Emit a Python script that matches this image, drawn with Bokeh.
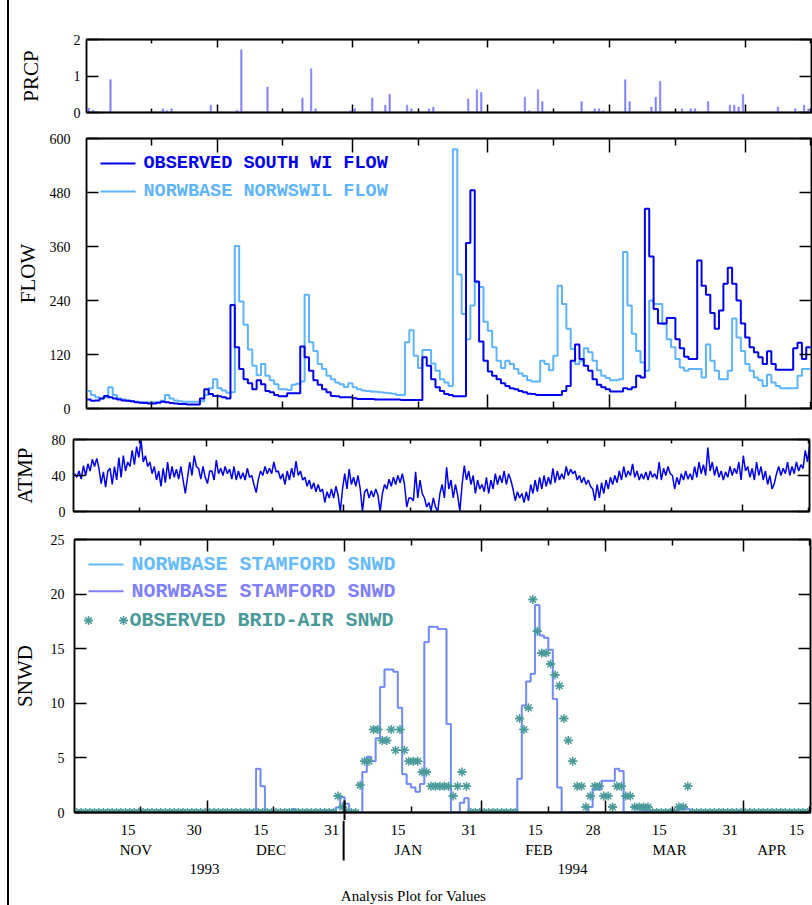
from datetime import date, timedelta
from bokeh.plotting import figure
from bokeh.models import Range1d, LinearAxis, FixedTicker, Div, Spacer
from bokeh.layouts import column, row
from bokeh.embed import file_html
from bokeh.resources import INLINE
from bokeh.core.properties import value

# ---------------- data (day index 0 = 1993-11-01) ----------------
START = date(1993, 11, 1)
X_END = 166.2

prcp_days = [0, 1, 5, 17, 18, 19, 28, 34, 35, 41,
             49, 51, 52, 60, 61, 65, 68, 69, 73, 74,
             78, 79, 87, 89, 90, 100, 101, 103, 104, 113,
             116, 117, 118, 123, 124, 129, 130, 131, 136, 138,
             139, 142, 147, 148, 149, 150, 158, 162, 164, 165]
prcp_vals = [0.12, 0.06, 0.9, 0.1, 0.05, 0.1, 0.2, 0.06, 1.72, 0.7,
             0.4, 1.2, 0.1, 0.05, 0.1, 0.4, 0.2, 0.5, 0.2, 0.1,
             0.1, 0.15, 0.37, 0.62, 0.55, 0.42, 0.05, 0.62, 0.3, 0.3,
             0.1, 0.1, 0.05, 0.9, 0.3, 0.15, 0.42, 0.85, 0.1, 0.1,
             0.1, 0.3, 0.2, 0.2, 0.15, 0.5, 0.15, 0.1, 0.2, 0.1]

flow_obs = [20, 17, 18, 22, 28, 25, 22, 20, 18, 17,
            16, 14, 13, 12, 11, 11, 13, 15, 14, 12,
            11, 10, 10, 9, 9, 9, 22, 43, 32, 28,
            27, 25, 22, 230, 136, 88, 65, 56, 43, 63,
            54, 39, 36, 30, 27, 27, 34, 34, 34, 138,
            114, 84, 63, 53, 43, 36, 28, 27, 25, 25,
            25, 23, 21, 21, 21, 21, 20, 20, 20, 20,
            20, 20, 19, 19, 19, 19, 19, 114, 95, 65,
            47, 39, 32, 30, 27, 27, 27, 368, 485, 282,
            149, 106, 82, 73, 65, 56, 50, 45, 43, 39,
            36, 33, 32, 30, 30, 30, 30, 30, 30, 39,
            50, 106, 142, 110, 95, 84, 65, 53, 47, 43,
            38, 38, 38, 45, 43, 47, 73, 69, 444, 338,
            221, 189, 189, 201, 201, 154, 134, 115, 110, 110,
            329, 273, 253, 212, 177, 218, 277, 313, 277, 240,
            189, 158, 136, 125, 114, 99, 127, 99, 86, 86,
            86, 86, 134, 146, 110, 136, 136]

flow_sim = [39, 30, 25, 22, 25, 47, 30, 22, 20, 18,
            16, 15, 14, 14, 14, 14, 14, 17, 30, 22,
            18, 16, 15, 15, 15, 15, 16, 30, 45, 65,
            45, 40, 35, 36, 361, 238, 186, 131, 95, 74,
            99, 73, 63, 54, 43, 43, 41, 53, 55, 60,
            253, 147, 128, 99, 88, 73, 65, 58, 54, 48,
            56, 47, 43, 40, 39, 38, 37, 36, 35, 34,
            33, 30, 30, 147, 174, 117, 90, 130, 130, 100,
            84, 65, 58, 50, 576, 298, 210, 154, 229, 280,
            270, 193, 173, 136, 106, 90, 106, 99, 88, 78,
            72, 63, 60, 60, 106, 99, 85, 117, 273, 232,
            177, 132, 99, 106, 134, 125, 106, 85, 73, 68,
            63, 63, 65, 348, 229, 166, 128, 102, 84, 240,
            232, 232, 188, 154, 136, 110, 91, 84, 88, 88,
            88, 69, 142, 106, 84, 65, 65, 84, 200, 158,
            128, 99, 84, 69, 63, 50, 75, 58, 50, 45,
            45, 45, 45, 73, 88, 88, 88]

# air temperature, two readings per day
atmp = [42, 38, 45, 36, 51, 40, 53, 45, 58, 50, 59, 48, 31, 44, 27, 45, 48, 30, 50, 35,
        60, 38, 62, 45, 55, 50, 68, 52, 72, 60, 79, 55, 62, 50, 55, 42, 50, 35, 45, 28,
        48, 32, 55, 36, 50, 38, 47, 36, 50, 35, 20, 38, 55, 40, 62, 50, 48, 36, 50, 38,
        31, 45, 45, 35, 57, 42, 48, 40, 50, 42, 47, 36, 50, 35, 45, 36, 43, 35, 48, 38,
        40, 30, 21, 36, 45, 40, 50, 42, 48, 42, 55, 44, 45, 36, 42, 30, 45, 35, 48, 38,
        56, 40, 45, 35, 38, 28, 35, 25, 32, 22, 30, 22, 25, 10, 22, 15, 25, 15, 28, 18,
        0, 25, 42, 25, 47, 30, 38, 28, 40, 25, 0, 22, 25, 15, 23, 16, 25, 18, 0, 20,
        30, 25, 36, 28, 38, 30, 40, 32, 42, 30, 5, 15, 15, 12, 44, 15, 35, 20, 15, 5,
        10, 1, 15, 5, 0, 20, 30, 15, 49, 25, 35, 15, 30, 18, 0, 30, 51, 35, 45, 30,
        40, 20, 35, 25, 30, 22, 38, 20, 35, 25, 42, 30, 40, 32, 45, 30, 42, 35, 25, 12,
        22, 15, 20, 10, 22, 12, 30, 20, 35, 22, 38, 25, 40, 28, 38, 30, 48, 32, 45, 35,
        42, 36, 50, 40, 47, 42, 45, 35, 40, 32, 38, 30, 35, 28, 25, 12, 30, 15, 32, 20,
        35, 25, 38, 30, 40, 32, 45, 35, 50, 38, 45, 40, 53, 38, 45, 35, 42, 36, 44, 35,
        45, 38, 42, 36, 55, 35, 48, 40, 50, 42, 40, 25, 38, 30, 42, 35, 45, 36, 42, 35,
        50, 38, 55, 42, 52, 40, 71, 45, 55, 40, 50, 38, 45, 35, 44, 38, 50, 40, 48, 42,
        55, 35, 62, 45, 50, 38, 48, 35, 55, 40, 50, 35, 45, 30, 40, 25, 31, 42, 50, 40,
        48, 42, 55, 40, 50, 42, 55, 45, 52, 48, 68, 55, 75, 60]

snwd_sim = [0] * 41 + [4.0, 2.4, 0, 0, 0, 0, 0, 0, 0.3,
            0, 0, 0, 0, 0, 0, 0.15, 0.15, 0.15, 0.45,
            1.4, 0.8, 0, 0, 0, 3.7, 5.1, 4.7, 6.8, 11.5,
            13.1, 13.1, 12.9, 9.6, 3.5, 2.6, 2.3, 1.9, 2.6, 15.6,
            17.0, 17.0, 16.8, 16.8, 8.1, 0, 0, 0.9, 1.3, 0,
            0, 0, 0, 0, 0, 0, 0, 0, 0, 0,
            3.1, 9.8, 12.0, 12.7, 19.0, 16.2, 16.0, 14.9, 10.4, 2.3,
            0, 0, 0, 0, 0, 0, 0.5, 2.1, 2.1, 2.9,
            2.9, 2.9, 4.0, 3.8, 0, 0, 0, 0, 0.15, 0.15,
            0, 0, 0, 0, 0, 0, 0.3, 0.3, 0.3] + [0] * 28

snwd_obs = [0] * 59 + [1.5,
            0.5, 0, 0, 0, 2.5, 4.7, 4.7, 7.6, 7.6, 6.6,
            6.6, 7.6, 5.7, 7.6, 5.7, 4.7, 4.7, 4.7, 3.7, 3.7,
            2.4, 2.4, 2.4, 2.4, 2.4, 1.5, 2.4, 3.7, 2.4, 0,
            0, 0, 0, 0, 0, 0, 0, 0, 0, 0,
            8.6, 7.6, 9.6, 19.5, 16.6, 14.6, 14.6, 13.6, 12.6, 11.6,
            8.6, 6.6, 4.7, 2.4, 2.4, 0.5, 1.5, 2.4, 2.4, 1.5,
            1.5, 0.5, 2.4, 2.4, 1.5, 1.5, 0.5, 0.5, 0.5, 0.5,
            0, 0, 0, 0, 0, 0, 0.5, 0.5, 2.4] + [0] * 28

month_names = ["NOV", "DEC", "JAN", "FEB", "MAR", "APR"]
months = [(1993, 11), (1993, 12), (1994, 1), (1994, 2), (1994, 3), (1994, 4), (1994, 5)]
years = [1993, 1994]

# ---------------- colours / fonts ----------------
C_OBS = "#0000ee"
C_SIM = "#5fb4ff"
C_PRCP = "#8080ff"
C_SN1 = "#66bbff"
C_SN2 = "#8080ff"
C_TEAL = "#4a9a9a"
SERIF_NAME = "Liberation Serif"
SERIF = value(SERIF_NAME)
MONO = value("Liberation Mono")

def dday(y, m, d):
    return (date(y, m, d) - START).days

mid_ticks = [dday(y, m, 16) for (y, m) in months[:-1]]
end_ticks = [dday(*months[i + 1], 1) for i in range(5)]
mid_labels = ["15"] * len(mid_ticks)
end_labels = [str((date(*months[i + 1], 1) - timedelta(days=1)).day) for i in range(5)]
all_ticks = sorted(mid_ticks + end_ticks)
tick_label = dict(zip(mid_ticks + end_ticks, mid_labels + end_labels))
month_centers = []
for i in range(6):
    a = max(0, dday(*months[i], 1))
    b = min(X_END, dday(*months[i + 1], 1))
    month_centers.append((a + b) / 2)
year_bounds = [0, dday(1994, 1, 1), X_END]
year_centers = [(year_bounds[i] + year_bounds[i + 1]) / 2 for i in range(2)]

xr = Range1d(0, X_END)
FIG_W = 803


def base_fig(left, frame_w, top, frame_h, bottom, y0, y1):
    p = figure(frame_width=frame_w, frame_height=frame_h, x_range=xr,
               y_range=Range1d(y0, y1), min_border_left=left,
               min_border_right=FIG_W - left - frame_w, min_border_top=top,
               min_border_bottom=bottom, x_axis_type=None, y_axis_type=None,
               toolbar_location=None, output_backend="svg",
               background_fill_color="white", border_fill_color="white",
               frame_align=False)
    p.outline_line_color = "black"
    p.outline_line_width = 1.5
    return p


def tick_only_axis(p, place, ticks, length, out=0):
    ax = LinearAxis(ticker=FixedTicker(ticks=[], minor_ticks=ticks))
    ax.major_tick_in = 0
    ax.major_tick_out = 0
    ax.minor_tick_in = length
    ax.minor_tick_out = out
    ax.major_label_standoff = 0
    ax.axis_line_color = "black"
    ax.axis_line_width = 1.5
    ax.minor_tick_line_color = "black"
    ax.minor_tick_line_width = 1.5 if out == 0 else 2
    p.add_layout(ax, place)


def add_axes(p, yticks, ylabel, xmaj, xmin, lab_standoff, axlab_standoff):
    for place in ("below", "above"):
        tick_only_axis(p, place, end_ticks, xmaj)
        tick_only_axis(p, place, mid_ticks, xmin)
    la = LinearAxis(ticker=FixedTicker(ticks=yticks, minor_ticks=[]), axis_label=ylabel)
    la.major_tick_in = 12
    la.major_tick_out = 0
    la.minor_tick_in = 0
    la.minor_tick_out = 0
    la.axis_line_color = "black"
    la.axis_line_width = 1.5
    la.major_tick_line_color = "black"
    la.major_tick_line_width = 1.5
    la.major_label_text_font = SERIF_NAME
    la.major_label_text_font_size = "14px"
    la.major_label_text_color = "black"
    la.major_label_standoff = lab_standoff
    la.axis_label_text_font = SERIF_NAME
    la.axis_label_text_font_size = "21px"
    la.axis_label_text_font_style = "normal"
    la.axis_label_text_color = "black"
    la.axis_label_standoff = axlab_standoff
    p.add_layout(la, "left")
    tick_only_axis(p, "right", yticks, 12)


def fx(px, frame_w):
    return px / frame_w * X_END


# ---------------- PRCP ----------------
p1 = base_fig(77, 725, 39, 73, 13, 0, 2)
add_axes(p1, [0, 1, 2], "PRCP", 8, 4, 6, 28)
p1.vbar(x=[d + 0.5 for d in prcp_days], top=prcp_vals, width=0.35,
        fill_color=C_PRCP, line_color=C_PRCP, line_width=0.5)

# ---------------- FLOW ----------------
p2 = base_fig(77, 725, 13, 270, 17, 0, 600)
add_axes(p2, [0, 120, 240, 360, 480, 600], "FLOW", 14, 7, 16, 7)
days = list(range(len(flow_obs)))
p2.step(days, flow_sim, mode="after", line_color=C_SIM, line_width=2)
p2.step(days, flow_obs, mode="after", line_color=C_OBS, line_width=2)
for yfrac, col, txt in [(0.907, C_OBS, "OBSERVED SOUTH WI FLOW"),
                        (0.804, C_SIM, "NORWBASE NORWSWIL FLOW")]:
    yy = yfrac * 600
    p2.line([fx(14, 725), fx(49, 725)], [yy, yy], line_color=col, line_width=2)
    p2.text(x=[fx(57, 725)], y=[yy], text=[txt], text_font=MONO, text_font_style="bold",
            text_font_size="18.5px", text_color=col, text_baseline="middle")

# ---------------- ATMP ----------------
p3 = base_fig(64, 736, 14, 72, 14, 0, 80)
add_axes(p3, [0, 40, 80], "ATMP", 7, 4, 8, 12)
p3.line([i * 0.5 + 0.25 for i in range(len(atmp))], atmp,
        line_color=C_OBS, line_width=1.5)

# ---------------- SNWD ----------------
p4 = base_fig(64, 736, 14, 273, 8, 0, 25)
add_axes(p4, [0, 5, 10, 15, 20, 25], "SNWD", 12, 6, 10, 11)
# start of the year separator, reaching down out of the frame
tick_only_axis(p4, "below", [year_bounds[1]], 12, out=8)
sd = list(range(len(snwd_sim)))
p4.step(sd, snwd_sim, mode="after", line_color=C_SN1, line_width=2)
p4.step(sd, snwd_sim, mode="after", line_color=C_SN2, line_width=1.5)
ox = [i + 0.5 for i in range(len(snwd_obs))]
p4.scatter(ox, snwd_obs, marker="asterisk", size=9, line_color=C_TEAL, line_width=1.5)
p4.scatter(ox, snwd_obs, marker="dash", size=9, line_color=C_TEAL, line_width=1.5)
for yfrac, col, txt in [(0.908, C_SN1, "NORWBASE STAMFORD SNWD"),
                        (0.810, C_SN2, "NORWBASE STAMFORD SNWD")]:
    yy = yfrac * 25
    p4.line([fx(14, 736), fx(49, 736)], [yy, yy], line_color=col, line_width=2)
    p4.text(x=[fx(57, 736)], y=[yy], text=[txt], text_font=MONO, text_font_style="bold",
            text_font_size="20px", text_color=col, text_baseline="middle")
yy = 0.703 * 25
for mk in ("asterisk", "dash"):
    p4.scatter([fx(14, 736), fx(49, 736)], [yy, yy], marker=mk, size=9,
               line_color=C_TEAL, line_width=1.5)
p4.text(x=[fx(55, 736)], y=[yy], text=["OBSERVED BRID-AIR SNWD"], text_font=MONO,
        text_font_style="bold", text_font_size="20px", text_color=C_TEAL,
        text_baseline="middle")

# ---------------- date labels below ----------------
H5 = 85
p5 = figure(frame_width=736, frame_height=H5, x_range=xr, y_range=Range1d(H5, 0),
            min_border_left=64, min_border_right=3, min_border_top=0, min_border_bottom=0,
            x_axis_type=None, y_axis_type=None, toolbar_location=None,
            output_backend="svg", background_fill_color="white",
            border_fill_color="white", frame_align=False)
p5.outline_line_color = None
p5.text(x=all_ticks, y=[9] * len(all_ticks), text=[tick_label[t] for t in all_ticks],
        text_font=SERIF, text_font_size="15px", text_align="center",
        text_baseline="middle", x_offset=-12, text_color="black")
p5.text(x=month_centers, y=[29] * 6, text=month_names, text_font=SERIF,
        text_font_size="15px", text_align="center", text_baseline="middle",
        x_offset=-4, text_color="black")
p5.text(x=year_centers, y=[48] * 2, text=[str(y) for y in years], text_font=SERIF,
        text_font_size="15px", text_align="center", text_baseline="middle",
        x_offset=-4, text_color="black")
p5.segment(x0=[year_bounds[1]], y0=[0], x1=[year_bounds[1]], y1=[40],
           line_color="black", line_width=2)
p5.text(x=[X_END / 2], y=[75], text=["Analysis Plot for Values"], text_font=SERIF,
        text_font_size="15px", text_align="center", text_baseline="middle",
        x_offset=-28, text_color="black")

edge = Div(text="", width=2, height=905, margin=0, styles={"background-color": "black"})
layout = row(Spacer(width=7, height=905, margin=0), edge,
             column(p1, p2, p3, p4, p5, spacing=0, margin=0), spacing=0, margin=0)

open("out.html", "w").write(file_html(layout, INLINE))
